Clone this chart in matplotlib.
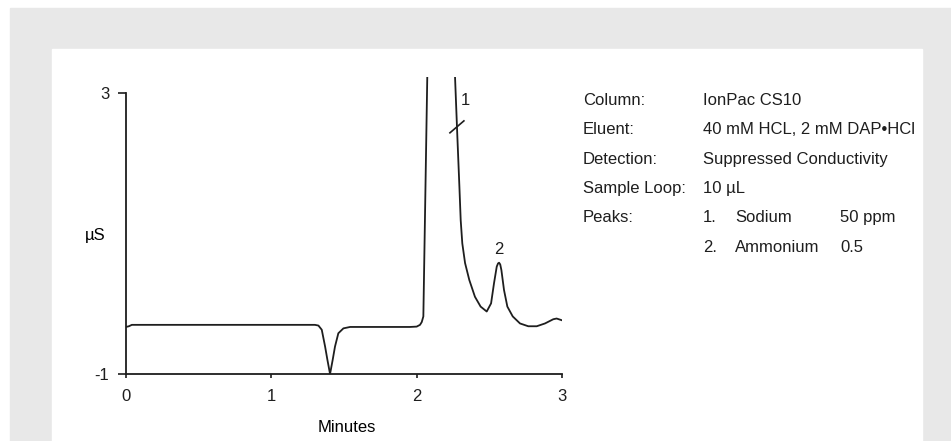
import matplotlib.pyplot as plt
from matplotlib.patches import Rectangle

# trace (minutes, uS)
time_min = [0.0, 0.02, 0.04, 0.5, 1.0, 1.30, 1.324, 1.347, 1.370, 1.386, 1.404,
            1.422, 1.438, 1.461, 1.496, 1.542, 1.8, 1.954, 2.0, 2.023, 2.035, 2.046, 2.073,
            2.17, 2.264, 2.28, 2.294, 2.303, 2.314, 2.333, 2.362, 2.401, 2.44,
            2.482, 2.512, 2.532, 2.551, 2.56, 2.567, 2.575, 2.583, 2.601, 2.624, 2.661, 2.711,
            2.768, 2.826, 2.883, 2.94, 2.963, 3.0]
signal_us = [-0.33, -0.32, -0.30, -0.30, -0.30, -0.30, -0.31, -0.37, -0.61, -0.80, -1.0,
             -0.80, -0.61, -0.42, -0.35, -0.33, -0.33, -0.33, -0.325, -0.30, -0.26, -0.18, 3.23,
             4.6, 3.23, 2.38, 1.67, 1.19, 0.86, 0.58, 0.34, 0.10, -0.04,
             -0.11, 0.006, 0.29, 0.53, 0.575, 0.585, 0.56, 0.48, 0.196, -0.04, -0.18, -0.28,
             -0.32, -0.32, -0.28, -0.22, -0.21, -0.235]

peak_labels = ["1", "2"]
peak_label_pos = [(2.333, 2.90), (2.562, 0.78)]
break_pos = (2.277, 2.52)

info_keys = ["Column:", "Eluent:", "Detection:", "Sample Loop:", "Peaks:"]
info_values = ["IonPac CS10", "40 mM HCL, 2 mM DAP\u2022HCl",
               "Suppressed Conductivity", "10 \u00b5L"]
peak_nums = ["1.", "2."]
peak_names = ["Sodium", "Ammonium"]
peak_conc = ["50 ppm", "0.5"]

plt.rcParams["font.family"] = ["Liberation Sans Narrow", "Liberation Sans", "DejaVu Sans"]
plt.rcParams["font.stretch"] = "condensed"
FS = 12
INK = "#1e1e1e"
plt.rcParams["font.size"] = FS
plt.rcParams["text.color"] = INK

W, H = 951, 441
fig = plt.figure(figsize=(W / 100, H / 100), dpi=100)
fig.patch.set_facecolor("white")

# grey frame and white card behind the chart
fig.patches.append(Rectangle((10 / W, 0), (W - 10) / W, (H - 8) / H,
                             transform=fig.transFigure, color="#e8e8e8", zorder=-5))
fig.patches.append(Rectangle((52 / W, 0), (922 - 52) / W, (H - 49) / H,
                             transform=fig.transFigure, color="white", zorder=-4))

ax = fig.add_axes([126 / W, 67 / H, (562 - 126) / W, (364 - 67) / H])
ax.set_zorder(2)
ax.patch.set_alpha(0)
ax.plot(time_min, signal_us, color=INK, lw=1.3, solid_joinstyle="round")

ax.set_xlim(0, 3)
ax.set_ylim(-1, 3.23)
ax.spines["top"].set_visible(False)
ax.spines["right"].set_visible(False)
ax.spines["left"].set_bounds(-1, 3)
for s in ("left", "bottom"):
    ax.spines[s].set_linewidth(1.3)
    ax.spines[s].set_color(INK)

ax.set_xticks([0, 1, 2, 3])
ax.set_yticks([-1, 3])
ax.set_yticklabels(["-1", "3"])
ax.tick_params(axis="x", direction="out", length=3, width=1.2, pad=8, labelsize=FS, colors=INK)
ax.tick_params(axis="y", direction="out", length=6, width=1.2, pad=6, labelsize=FS, colors=INK)

ax.set_xlabel("Minutes", fontsize=FS)
ax.xaxis.set_label_coords(0.506, -0.155)
ax.set_ylabel("\u00b5S", rotation=0, fontsize=FS, ha="center", va="center")
ax.yaxis.set_label_coords(-0.071, 0.465)

for lab, (tx, ty) in zip(peak_labels, peak_label_pos):
    ax.text(tx, ty, lab, ha="center", va="center", fontsize=FS, clip_on=False)

# break mark on the off-scale peak
bx, by = break_pos
ax.plot([bx - 0.048, bx + 0.048], [by - 0.085, by + 0.085], color=INK, lw=1.2, clip_on=False)

# method info block
row_y = [100.5, 130, 159.5, 188.5, 218, 247.5]
for i, key in enumerate(info_keys):
    fig.text(583 / W, 1 - row_y[i] / H, key, ha="left", va="center", fontsize=FS)
for i, val in enumerate(info_values):
    fig.text(703 / W, 1 - row_y[i] / H, val, ha="left", va="center", fontsize=FS)
for j in range(len(peak_nums)):
    y = 1 - row_y[4 + j] / H
    fig.text(703 / W, y, peak_nums[j], ha="left", va="center", fontsize=FS)
    fig.text(735 / W, y, peak_names[j], ha="left", va="center", fontsize=FS)
    fig.text(840 / W, y, peak_conc[j], ha="left", va="center", fontsize=FS)

fig.savefig("out.png", dpi=100)
